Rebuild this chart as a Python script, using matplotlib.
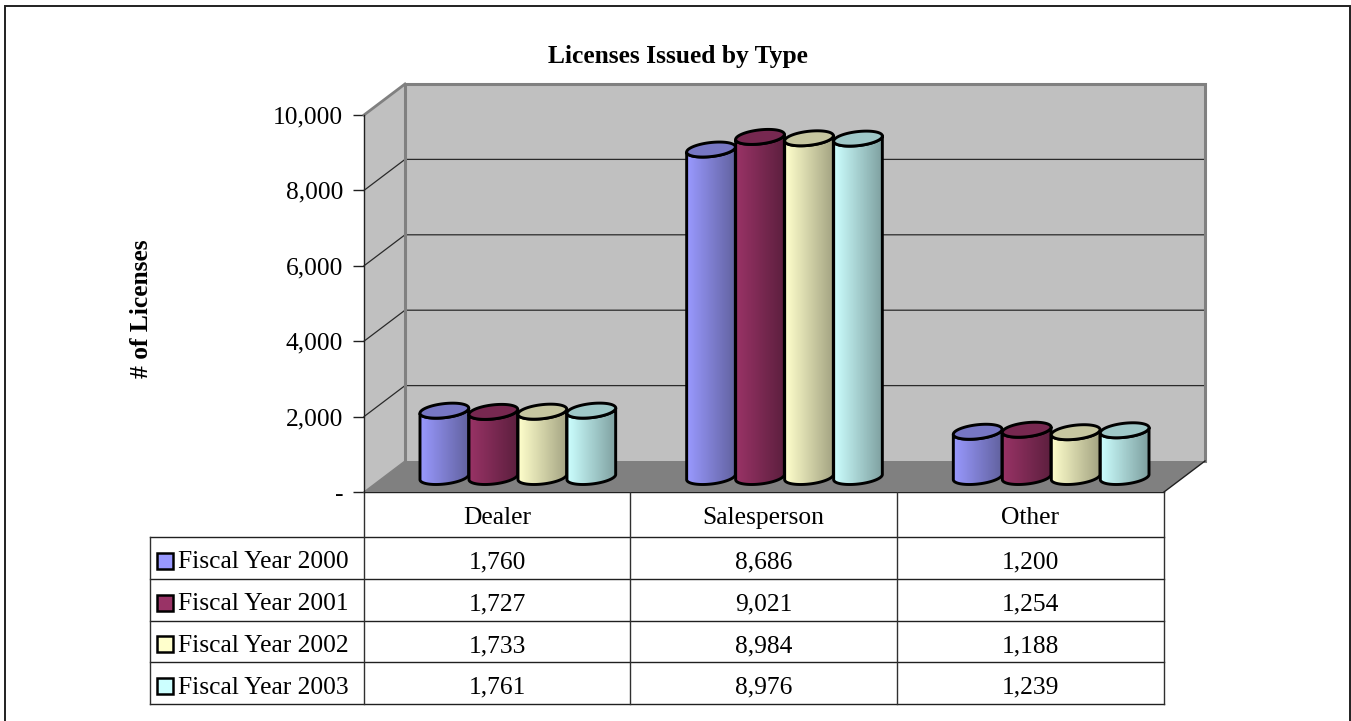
import matplotlib
matplotlib.use('Agg')
import matplotlib.pyplot as plt
import numpy as np
from matplotlib.patches import PathPatch, Polygon, Rectangle
from matplotlib.path import Path

plt.rcParams['font.family'] = ['Liberation Serif', 'DejaVu Serif']

categories = ['Dealer', 'Salesperson', 'Other']
series_names = ['Fiscal Year 2000', 'Fiscal Year 2001', 'Fiscal Year 2002', 'Fiscal Year 2003']
fy2000 = [1760, 8686, 1200]
fy2001 = [1727, 9021, 1254]
fy2002 = [1733, 8984, 1188]
fy2003 = [1761, 8976, 1239]
series_values = [fy2000, fy2001, fy2002, fy2003]
y_ticks = [0, 2000, 4000, 6000, 8000, 10000]
y_tick_labels = ['-', '2,000', '4,000', '6,000', '8,000', '10,000']

side_colors = ['#9999FF', '#993366', '#FFFFCC', '#CCFFFF']
shade_colors = ['#62629F', '#5C1F3E', '#A3A382', '#7E9F9F']
top_colors = ['#7777C4', '#772850', '#C6C6A0', '#9FC8C8']

W, H = 1351, 721
FONT = 18.4
# front plane of the plot box, in figure pixels
LEFT, RIGHT, BOTTOM, TOP = 364, 1164, 492, 115
DEPTH_X, DEPTH_Y = 41, 31
table_rows = [492, 537, 579, 621, 662, 704]
table_cols = [150, 364, 630, 897, 1164]

fig = plt.figure(figsize=(W / 100, H / 100), dpi=100, facecolor='white')

# page layer in pixel coordinates: frame, titles and the data table
page = fig.add_axes([0, 0, 1, 1])
page.set_xlim(0, W)
page.set_ylim(H, 0)
page.axis('off')
page.plot([5, 5, 1350, 1350], [H, 6, 6, H], color='#202020', lw=1.4, solid_joinstyle='miter', clip_on=False)
page.text(678, 57, 'Licenses Issued by Type', ha='center', va='center',
          fontsize=FONT, fontweight='bold')
page.text(142, 309, '# of Licenses', ha='center', va='center', rotation=90,
          fontsize=FONT, fontweight='bold')

# value axes sit on the front plane
ax = fig.add_axes([LEFT / W, 1 - BOTTOM / H, (RIGHT - LEFT) / W, (BOTTOM - TOP) / H])
ax.patch.set_visible(False)
for side in ['top', 'right', 'bottom']:
    ax.spines[side].set_visible(False)
ax.spines['left'].set_color('#202020')
ax.spines['left'].set_linewidth(1.0)
ax.spines['left'].set_zorder(6)

x_per_px = len(categories) / (RIGHT - LEFT)
y_per_px = 10000 / (BOTTOM - TOP)
dx = DEPTH_X * x_per_px
dy = DEPTH_Y * y_per_px
n_cat = len(categories)

# walls and floor
ax.add_patch(Polygon([(0, 0), (dx, dy), (dx, 10000 + dy), (0, 10000)], fc='#C0C0C0', ec='none',
                     clip_on=False, zorder=1))
ax.add_patch(Rectangle((dx, dy), n_cat, 10000, fc='#C0C0C0', ec='none', clip_on=False, zorder=1))
ax.add_patch(Polygon([(0, 0), (n_cat, 0), (n_cat + dx, dy), (dx, dy)], fc='#808080', ec='none',
                     clip_on=False, zorder=1.5))
for t in y_ticks[1:-1]:
    ax.plot([0, dx, n_cat + dx], [t, t + dy, t + dy], color='#2A2A2A', lw=0.9, clip_on=False, zorder=2)
ax.plot([dx, dx, n_cat + dx, n_cat + dx], [dy, 10000 + dy, 10000 + dy, dy],
        color='#808080', lw=2.2, clip_on=False, zorder=2, solid_joinstyle='miter')
ax.plot([0, dx], [10000, 10000 + dy], color='#808080', lw=2.0, clip_on=False, zorder=2)
ax.plot([0, dx], [0, dy], color='#808080', lw=1.0, clip_on=False, zorder=2)
# lower right edge of the floor
ax.plot([n_cat, n_cat + dx], [0, dy], color='#202020', lw=1.0, clip_on=False, zorder=2)

bar_w = 49 * x_per_px
radius_x = bar_w / 2
radius_y = 7 * y_per_px
tilt = 0.115  # ellipses lean up to the right
base = (dx / 2, (DEPTH_Y / 2 - 0.5) * y_per_px)
theta = np.linspace(0, 2 * np.pi, 121)


def ring(cx, cy, angles):
    # rotate in pixel space so the lean survives the unequal axis scales
    px = radius_x / x_per_px * np.cos(angles)
    py = radius_y / y_per_px * np.sin(angles)
    xr = px * np.cos(tilt) - py * np.sin(tilt)
    yr = px * np.sin(tilt) + py * np.cos(tilt)
    return cx + xr * x_per_px, cy + yr * y_per_px


def draw_cylinder(cx, value, i, z):
    cy0 = base[1]
    cy1 = base[1] + value
    lower = np.linspace(np.pi, 2 * np.pi, 60)
    bx, by = ring(cx, cy0, lower)
    tx, ty = ring(cx, cy1, lower[::-1])
    body = Path(np.column_stack([np.r_[bx, tx, bx[0]], np.r_[by, ty, by[0]]]), closed=True)

    # side shading runs from a light left edge to a darker right edge
    light = np.array(matplotlib.colors.to_rgb(side_colors[i]))
    dark = np.array(matplotlib.colors.to_rgb(shade_colors[i]))
    ramp = np.linspace(0, 1, 64)[:, None]
    shade = light * (1 - ramp) + dark * ramp
    im = ax.imshow(shade[None, :, :], extent=[cx - radius_x, cx + radius_x, cy0 - radius_y * 1.5, cy1 + radius_y * 1.5],
                   aspect='auto', origin='lower', zorder=z, clip_on=True, interpolation='bilinear')
    clip = PathPatch(body, transform=ax.transData, fc='none', ec='none')
    ax.add_patch(clip)
    clip.set_clip_on(False)
    im.set_clip_path(clip)

    ax.add_patch(PathPatch(body, fc='none', ec='black', lw=2.1, clip_on=False, zorder=z + 0.01,
                           joinstyle='round'))
    ex, ey = ring(cx, cy1, theta)
    ax.fill(ex, ey, fc=top_colors[i], ec='black', lw=2.1, clip_on=False, zorder=z + 0.02)


for c in range(n_cat):
    for i, values in enumerate(series_values):
        cx = c + 0.5 + base[0] + (i - 1.5) * bar_w
        draw_cylinder(cx, values[c], i, 3 + c + i * 0.1)

ax.set_xlim(0, n_cat)
ax.set_ylim(0, 10000)
ax.set_xticks([])
ax.set_yticks(y_ticks)
ax.set_yticklabels(y_tick_labels, fontsize=FONT)
ax.tick_params(axis='y', length=8, width=1.0, color='#202020', pad=7)

# data table under the plot
for k, y in enumerate(table_rows):
    x0 = table_cols[1] if k == 0 else table_cols[0]
    page.plot([x0, table_cols[-1]], [y, y], color='#202020', lw=1.0, zorder=1)
for k, x in enumerate(table_cols):
    y0 = table_rows[1] if k == 0 else table_rows[0]
    page.plot([x, x], [y0, table_rows[-1]], color='#303030', lw=1.0, zorder=1)

for c, name in enumerate(categories):
    xc = (table_cols[c + 1] + table_cols[c + 2]) / 2
    page.text(xc, (table_rows[0] + table_rows[1]) / 2 + 1, name, ha='center', va='center_baseline', fontsize=FONT)
    for r, values in enumerate(series_values):
        page.text(xc, (table_rows[r + 1] + table_rows[r + 2]) / 2 + 2, f'{values[c]:,}',
                  ha='center', va='center_baseline', fontsize=FONT)

for r, name in enumerate(series_names):
    yc = (table_rows[r + 1] + table_rows[r + 2]) / 2
    page.add_patch(Rectangle((156.5, yc - 5.5), 16, 16, fc=side_colors[r], ec='black', lw=1.8, zorder=3))
    page.text(178, yc + 2, name, ha='left', va='center_baseline', fontsize=FONT)

fig.savefig('out.png', dpi=100, facecolor='white')
